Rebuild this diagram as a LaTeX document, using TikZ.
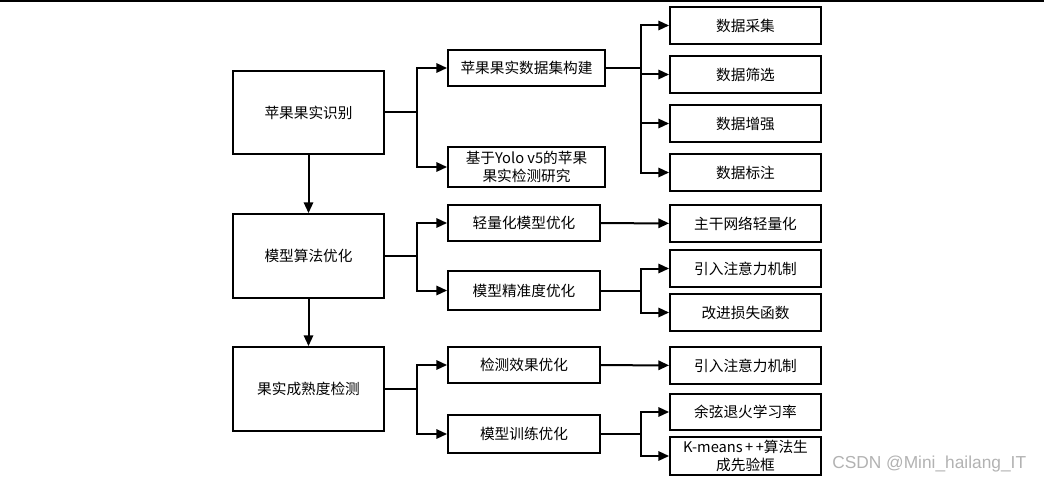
\documentclass[tikz,border=0pt]{standalone}
\usepackage{fontspec}
\setmainfont{Noto Sans CJK SC}
\newfontfamily\wmfont{Liberation Sans}
\usetikzlibrary{arrows.meta}
\begin{document}
\begin{tikzpicture}[x=0.75pt,y=-0.75pt,
  box/.style={draw,line width=1.4pt,align=center,font=\fontsize{11}{13}\selectfont,inner sep=0pt},
  ln/.style={line width=1.5pt},
  ar/.style={line width=1.5pt,-{Triangle[length=8pt,width=7pt]}}]
\useasboundingbox (0,0) rectangle (1044,481);
\draw[line width=1pt] (0,1) -- (1044,1);
\newcommand\bx[6]{\node[box,minimum width={(#3-#2)*0.75pt},minimum height={(#5-#4)*0.75pt}] (#1) at ({(#2+#3)/2},{(#4+#5)/2}) {#6};}
\bx{L1}{233}{384}{71}{154}{苹果果实识别}
\bx{L2}{233}{384}{214}{298}{模型算法优化}
\bx{L3}{233}{384}{347}{431}{果实成熟度检测}
\bx{M1}{448}{605}{50}{86}{苹果果实数据集构建}
\bx{M2}{448}{605}{147}{187}{基于Yolo v5的苹果\\果实检测研究}
\bx{M3}{448}{600}{205}{241}{轻量化模型优化}
\bx{M4}{448}{600}{271}{310}{模型精准度优化}
\bx{M5}{448}{600}{347}{383}{检测效果优化}
\bx{M6}{448}{600}{415}{453}{模型训练优化}
\bx{R1}{670}{821}{7}{44}{数据采集}
\bx{R2}{670}{821}{56}{93}{数据筛选}
\bx{R3}{670}{821}{105}{142}{数据增强}
\bx{R4}{670}{821}{154}{191}{数据标注}
\bx{R5}{670}{821}{205}{242}{主干网络轻量化}
\bx{R6}{670}{821}{250}{287}{引入注意力机制}
\bx{R7}{670}{821}{294}{331}{改进损失函数}
\bx{R8}{670}{821}{347}{384}{引入注意力机制}
\bx{R9}{670}{821}{394}{430}{余弦退火学习率}
\bx{R10}{670}{821}{437}{475}{K-means\,+\,+算法生\\成先验框}
\draw[ar] (L1) -- (L2);
\draw[ar] (L2) -- (L3);
\foreach \a/\b/\c in {L1/M1/M2, L2/M3/M4, L3/M5/M6}{
  \coordinate (j) at ([xshift=24pt]\a.east);
  \draw[ln] (\a.east) -- (j);
  \draw[ar] (j) |- (\b.west);
  \draw[ar] (j) |- (\c.west);
}
\coordinate (k1) at ([xshift=26pt]M1.east);
\draw[ln] (M1.east) -- (k1);
\foreach \r in {R1,R2,R3,R4}{\draw[ar] (k1) |- (\r.west);}
\draw[ar] (M3) -- (R5);
\foreach \m/\a/\b in {M4/R6/R7, M6/R9/R10}{
  \coordinate (k) at ([xshift=30pt]\m.east);
  \draw[ln] (\m.east) -- (k);
  \draw[ar] (k) |- (\a.west);
  \draw[ar] (k) |- (\b.west);
}
\draw[ar] (M5) -- (R8);
\node[anchor=west,text=gray!60,font=\fontsize{13}{15}\wmfont,inner sep=0pt] (wm) at (832,464) {CSDN @Mini\_hailang\_IT};
\end{tikzpicture}
\end{document}
